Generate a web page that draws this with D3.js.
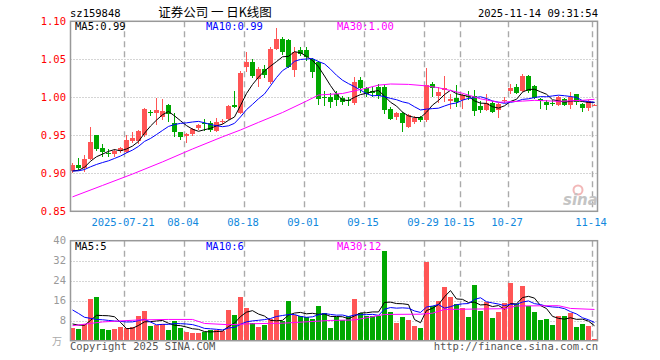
<!DOCTYPE html>
<html><head><meta charset="utf-8">
<script src="https://cdn.jsdelivr.net/npm/d3@7"></script>
<style>body{margin:0;background:#fff}svg{display:block}</style>
</head><body><svg id="c" width="660" height="360"></svg>
<script>
const dates = [
"2025-07-08","2025-07-09","2025-07-10","2025-07-11","2025-07-14","2025-07-15","2025-07-16","2025-07-17","2025-07-18","2025-07-21",
"2025-07-22","2025-07-23","2025-07-24","2025-07-25","2025-07-28","2025-07-29","2025-07-30","2025-07-31","2025-08-01","2025-08-04",
"2025-08-05","2025-08-06","2025-08-07","2025-08-08","2025-08-11","2025-08-12","2025-08-13","2025-08-14","2025-08-15","2025-08-18",
"2025-08-19","2025-08-20","2025-08-21","2025-08-22","2025-08-25","2025-08-26","2025-08-27","2025-08-28","2025-08-29","2025-09-01",
"2025-09-02","2025-09-03","2025-09-04","2025-09-05","2025-09-08","2025-09-09","2025-09-10","2025-09-11","2025-09-12","2025-09-15",
"2025-09-16","2025-09-17","2025-09-18","2025-09-19","2025-09-22","2025-09-23","2025-09-24","2025-09-25","2025-09-26","2025-09-29",
"2025-09-30","2025-10-09","2025-10-10","2025-10-13","2025-10-14","2025-10-15","2025-10-16","2025-10-17","2025-10-20","2025-10-21",
"2025-10-22","2025-10-23","2025-10-24","2025-10-27","2025-10-28","2025-10-29","2025-10-30","2025-10-31","2025-11-03","2025-11-04",
"2025-11-05","2025-11-06","2025-11-07","2025-11-10","2025-11-11","2025-11-12","2025-11-13","2025-11-14"];
const open = [
0.9034,0.911,0.9074,0.9184,0.950,0.933,0.927,0.926,0.930,0.9285,
0.943,0.943,0.950,0.9805,0.980,0.9746,0.990,0.9658,0.954,0.9496,
0.9522,0.9592,0.9662,0.9667,0.9557,0.9685,0.971,0.990,0.980,1.040,
1.046,1.0245,1.0377,1.020,1.064,1.077,1.075,1.0355,1.062,1.062,
1.051,1.0465,1.000,1.001,1.004,0.9987,0.996,0.992,1.023,1.0118,
1.008,1.014,1.014,0.9846,0.9746,0.980,0.961,0.968,0.974,0.970,
1.017,1.002,1.0096,0.995,0.9995,0.997,1.002,1.0017,0.989,0.983,
0.992,0.983,0.996,1.0083,1.0136,1.008,1.0285,1.015,0.998,0.994,
0.993,0.990,0.998,0.990,1.004,0.991,0.986,0.989];
const high = [
0.913,0.920,0.924,0.9613,0.951,0.9385,0.932,0.932,0.934,0.950,
0.955,0.957,0.9855,0.983,0.9987,0.9978,0.991,0.980,0.955,0.953,
0.960,0.965,0.971,0.969,0.9724,0.972,0.990,1.0088,1.034,1.059,
1.050,1.040,1.043,1.066,1.091,1.079,1.077,1.066,1.066,1.066,
1.052,1.048,1.008,1.006,1.008,1.002,1.000,1.027,1.027,1.014,
1.014,1.018,1.016,0.987,0.981,0.981,0.978,0.975,0.976,1.039,
1.0197,1.014,1.0285,1.005,1.016,1.005,1.008,1.009,0.995,1.004,
0.995,0.993,1.000,1.018,1.017,1.031,1.029,1.016,0.999,0.996,
0.997,1.002,0.999,1.007,1.005,0.992,0.996,0.991];
const low = [
0.901,0.905,0.902,0.9175,0.930,0.922,0.921,0.921,0.927,0.927,
0.940,0.938,0.948,0.976,0.9636,0.970,0.968,0.948,0.944,0.9395,
0.949,0.957,0.9553,0.955,0.954,0.965,0.970,0.9855,0.978,1.033,
1.025,1.0135,1.025,1.018,1.062,1.056,1.038,1.027,1.055,1.048,
1.026,0.990,0.988,0.986,0.988,0.990,0.988,0.990,1.006,1.000,
1.001,0.998,0.978,0.970,0.970,0.955,0.959,0.965,0.968,0.968,
1.001,0.993,0.994,0.985,0.987,0.984,0.997,0.976,0.979,0.982,
0.980,0.973,0.993,1.004,1.004,1.007,1.006,0.998,0.984,0.983,
0.988,0.988,0.988,0.985,0.990,0.981,0.982,0.988];
const close = [
0.9105,0.907,0.9184,0.941,0.932,0.928,0.925,0.930,0.933,0.944,
0.947,0.9557,0.984,0.980,0.9833,0.982,0.9776,0.9548,0.9482,0.9513,
0.9583,0.9636,0.9655,0.957,0.968,0.969,0.989,0.9877,1.0324,1.047,
1.028,1.037,1.029,1.064,1.077,1.0595,1.040,1.0596,1.057,1.053,
1.033,0.998,0.999,0.994,0.997,0.9943,0.995,1.0197,1.012,1.005,
1.006,1.002,0.983,0.9715,0.980,0.966,0.977,0.973,0.970,1.016,
1.0127,1.0075,1.012,0.998,0.9934,1.003,1.000,0.982,0.983,0.992,
0.981,0.991,0.997,1.0118,1.006,1.0285,1.008,0.9987,0.995,0.990,
0.992,1.001,0.990,1.001,0.9943,0.986,0.995,0.990];
const volume = [
5.2,4.7,6.7,16.7,17.5,4.7,4.3,4.7,5.5,4.9,
5.5,9.9,11.9,5.9,6.3,6.5,4.3,7.9,5.1,3.5,
3.1,3.1,3.5,4.3,4.3,3.9,12.3,10.3,17.5,13.1,
6.9,5.5,6.3,8.7,12.4,7.8,16.0,10.4,10.0,9.6,
8.8,13.9,11.1,5.1,9.5,8.3,9.9,16.7,11.1,9.9,
9.9,9.9,35.9,11.5,7.1,9.5,8.3,5.9,5.1,31.5,
13.9,15.9,21.5,17.5,14.7,13.1,9.5,22.3,11.9,15.5,
9.1,11.5,15.1,23.1,14.7,21.9,13.9,11.5,8.3,8.7,
6.3,9.9,9.9,11.1,5.5,6.7,5.9,0.7];
// closes / volumes of the days just before the window (for the first MA5/MA10 values)
const prevCloses = [0.904,0.902,0.905,0.901,0.903,0.902,0.899,0.901,0.9025];
const prevVolumes = [18.7,22,21,21.9,5.9,7,7,7,7.3];
// MA30: [day index, value]
const ma30Read = [[0,0.869],[5,0.884],[10,0.899],[15,0.915],[20,0.932],[25,0.948],[28,0.957],[31,0.967],[35,0.980],[39,0.995],[41,1.003],[45,1.005],[49,1.012],[51,1.016],[53,1.0175],[56,1.017],[59,1.015],[61,1.0126],[65,1.0053],[68,0.998],[71,0.9934],[75,0.995],[77,0.996],[81,0.9947],[85,0.996],[87,0.9974]];
const volMa30Read = [[0,6.0],[5,7.5],[11,8.3],[16,8.5],[20,8.5],[22,6.9],[26,6.4],[30,6.8],[35,7.0],[43,8.1],[47,8.3],[52,10.5],[58,10.6],[60,11.0],[62,12.5],[72,12.8],[74,13.9],[81,14.0],[83,12.9],[87,12.5]];
const priceTicks = [0.85,0.90,0.95,1.00,1.05,1.10];
const volTicks = [8,16,24,32,40];
const dateTicks = ["2025-07-21","2025-08-04","2025-08-18","2025-09-01","2025-09-15","2025-09-29","2025-10-15","2025-10-27","2025-11-14"];
const dateTickLabels = ["2025-07-21","08-04","08-18","09-01","09-15","09-29","10-15","10-27","11-14"];
const priceLegend = [["MA5","0.99"],["MA10","0.99"],["MA30","1.00"]];
const volLegend = [["MA5","5"],["MA10","6"],["MA30","12"]];
const codeText = "sz159848", titleText = "证券公司 一 日K线图", stampText = "2025-11-14 09:31:54";

const MONO = "'DejaVu Sans Mono', 'Liberation Mono', monospace";
const UP = "#ff5555", DOWN = "#00a800";
const maColors = ["#000000","#0000ff","#ff00ff"];
const svg = d3.select("#c");
const L = 70.5, R = 597.5, PT = 21.3, PB = 211.3, VT = 240.7, VB = 340.7;

const x = d3.scaleBand().domain(dates).range([69.5, 597.5]).paddingInner(1/6).paddingOuter(1/12);
const bw = x.bandwidth();
const y = d3.scaleLinear().domain([0.85, 1.10]).range([PB, PT]);
const yv = d3.scaleLinear().domain([0, 40]).range([VB, VT]);

function ma(arr, prev, n) {
  const all = prev.concat(arr);
  return arr.map((_, i) => d3.mean(all.slice(i + prev.length - n + 1, i + prev.length + 1)));
}

// ---- grids ----
function grid(top, bot, ys) {
  const g = svg.append("g");
  g.selectAll("line.h").data(ys).join("line")
    .attr("x1", L).attr("x2", R).attr("y1", d => Math.round(d) + 0.5).attr("y2", d => Math.round(d) + 0.5)
    .attr("stroke", "#aaa").attr("stroke-dasharray", "1,2");
  g.selectAll("line.v").data(dateTicks).join("line")
    .attr("x1", d => x(d) + 0.5).attr("x2", d => x(d) + 0.5).attr("y1", top).attr("y2", bot)
    .attr("stroke", "#aaa").attr("stroke-width", 1.4).attr("stroke-dasharray", "6,4");
}
grid(PT, PB, priceTicks.filter(t => t > 0.85 && t < 1.10).map(y));
grid(VT, VB, volTicks.filter(t => t < 40).map(yv));

// ---- candles ----
const gc = svg.append("g").attr("shape-rendering", "crispEdges");
dates.forEach((d, i) => {
  const up = close[i] >= open[i];
  const col = up ? UP : DOWN;
  const cx = x(d) + Math.floor(bw / 2) + 0.5;
  gc.append("line").attr("x1", cx).attr("x2", cx).attr("y1", y(high[i])).attr("y2", y(low[i])).attr("stroke", col);
  const t = y(Math.max(open[i], close[i])), b = y(Math.min(open[i], close[i]));
  gc.append("rect").attr("x", x(d)).attr("width", bw).attr("y", t).attr("height", Math.max(1, b - t)).attr("fill", col);
  gc.append("rect").attr("x", x(d)).attr("width", bw).attr("y", yv(volume[i])).attr("height", VB - yv(volume[i])).attr("fill", col);
});

// ---- MA lines ----
const cxOf = i => x(dates[i]) + bw / 2;
const line = (ys) => d3.line().x(d => cxOf(d[0])).y(d => ys(d[1]));
const ma5 = ma(close, prevCloses, 5), ma10 = ma(close, prevCloses, 10);
const vma5 = ma(volume, prevVolumes, 5), vma10 = ma(volume, prevVolumes, 10);
[[ma5.map((v, i) => [i, v]), y, 0], [ma10.map((v, i) => [i, v]), y, 1], [ma30Read, y, 2],
 [vma5.map((v, i) => [i, v]), yv, 0], [vma10.map((v, i) => [i, v]), yv, 1], [volMa30Read, yv, 2]]
 .forEach(([pts, s, c]) => svg.append("path").attr("d", line(s)(pts)).attr("fill", "none")
   .attr("stroke", maColors[c]).attr("stroke-width", 1));

// ---- frames ----
[[PT, PB], [VT, VB]].forEach(([t, b]) => svg.append("rect").attr("x", L).attr("y", t).attr("width", R - L).attr("height", b - t)
  .attr("fill", "none").attr("stroke", "#999").attr("stroke-width", 1.5));

// ---- watermark ----
svg.append("circle").attr("cx", 578).attr("cy", 190).attr("r", 4.5).attr("fill", "none").attr("stroke", "#f2b8b8").attr("stroke-width", 2);
svg.append("text").attr("x", 563).attr("y", 205).text("sina").attr("font-family", "'DejaVu Sans', sans-serif")
  .attr("font-size", 15).attr("font-weight", "bold").attr("font-style", "italic").attr("fill", "#c4c4c4");

// ---- axis texts ----
const txt = (xx, yy, s, col, anchor, size, fam) => svg.append("text").attr("x", xx).attr("y", yy).text(s)
  .attr("fill", col).attr("text-anchor", anchor || "start").attr("font-size", size || 10).attr("font-family", fam || MONO);
priceTicks.forEach(t => txt(66, y(t) + 3.6, t.toFixed(2), "#ff0000", "end", 10.5));
volTicks.forEach(t => txt(66, yv(t) + 3.6, String(t), "#999999", "end", 10.5));
txt(62, VB + 4, "万", "#aaaaaa", "end", 10, "'Noto Sans CJK SC', sans-serif");
dateTicks.forEach((d, k) => txt(x(d) - 1, 225.5, dateTickLabels[k], "#1188dd", "middle", 10.5));

// legends
[priceLegend, volLegend].forEach((lg, p) => lg.forEach(([n, v], k) =>
  txt(75 + 131 * k, p === 0 ? 30 : 250, n + ":" + v, maColors[k], "start", 10.5)));

// header
txt(70, 16.5, codeText, "#000", "start", 10.5);
txt(215, 16.5, titleText, "#000", "middle", 12.5, "'Noto Sans CJK SC', sans-serif").attr("xml:space", "preserve");
txt(598, 16.5, stampText, "#000", "end", 10.5);
// footer
txt(70, 350, "Copyright 2025 SINA.COM", "#555", "start", 10.5);
txt(598, 350, "http://finance.sina.com.cn", "#555", "end", 10.5);
</script></body></html>
